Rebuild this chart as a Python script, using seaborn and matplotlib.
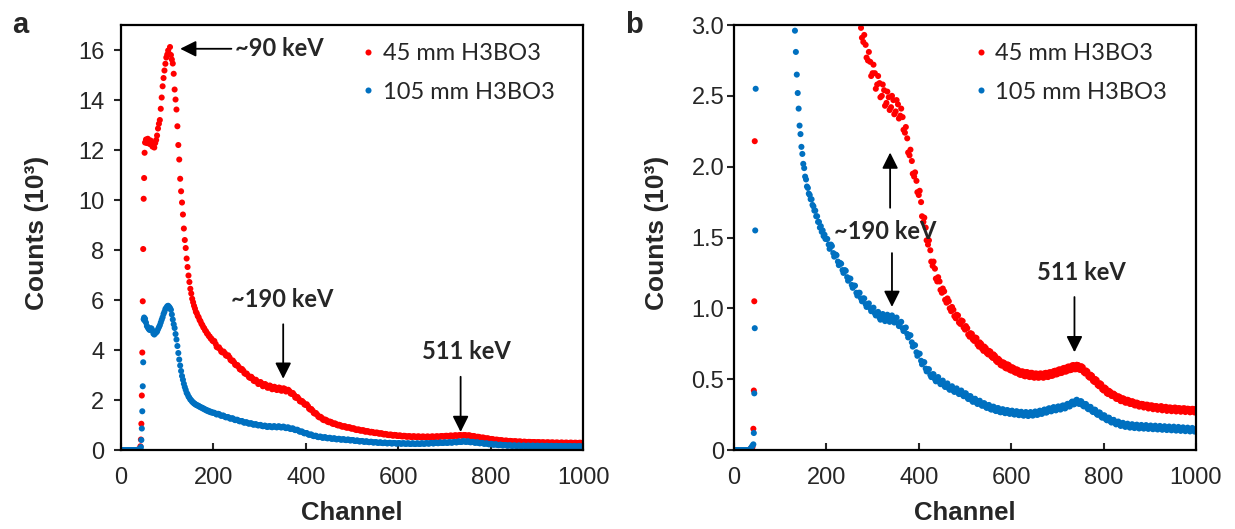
import pandas as pd
import matplotlib
matplotlib.use('Agg')
import matplotlib.pyplot as plt
import seaborn as sns

# Channel grid: flat start, steep rising edge, peak region, long tail
# (tail read on two interleaved grids to keep the point band dense)
ch_low = list(range(0, 41, 2))
ch_edge = list(range(42, 52))
ch_peak = list(range(52, 201, 2))
ch_tail = list(range(205, 1001, 5))
ch_tail2 = list(range(202, 1000, 5))
channels = ch_low + ch_edge + ch_peak + ch_tail + ch_tail2

# Counts (x10^3), 45 mm H3BO3
red_low = [0, 0, 0, 0, 0, 0, 0, 0, 0, 0, 0, 0, 0, 0, 0, 0, 0, 0, 0.01, 0.01, 0.02]
red_edge = [0.15, 0.42, 1.05, 2.18, 3.90, 5.95, 8.04, 10.05, 10.88, 11.89]
red_peak = [12.30, 12.42, 12.28, 12.45, 12.36, 12.24, 12.38, 12.30, 12.14, 12.20,
            12.10, 12.28, 12.40, 12.58, 12.86, 13.05, 13.20, 13.65, 14.10, 14.55,
            14.88, 15.18, 15.45, 15.70, 15.82, 15.98, 15.85, 16.12, 15.80, 15.62,
            15.46, 15.05, 14.42, 14.02, 13.62, 12.95, 12.20, 11.62, 10.85, 10.35,
            9.90, 9.42, 8.86, 8.40, 8.08, 7.66, 7.32, 6.98, 6.72, 6.45,
            6.26, 6.05, 5.91, 5.77, 5.66, 5.53, 5.47, 5.36, 5.31, 5.20,
            5.15, 5.05, 5.00, 4.91, 4.87, 4.78, 4.75, 4.66, 4.64, 4.56,
            4.54, 4.46, 4.45, 4.37, 4.35]
red_tail = [4.24, 4.09, 4.02, 3.90, 3.87, 3.76, 3.70, 3.56, 3.50, 3.38,
            3.32, 3.20, 3.17, 3.04, 2.98, 2.88, 2.86, 2.75, 2.74, 2.66,
            2.66, 2.58, 2.59, 2.50, 2.54, 2.45, 2.49, 2.42, 2.47, 2.39,
            2.44, 2.36, 2.35, 2.24, 2.20, 2.08, 2.04, 1.93, 1.90, 1.80,
            1.75, 1.61, 1.57, 1.45, 1.41, 1.30, 1.28, 1.19, 1.19, 1.11,
            1.12, 1.04, 1.05, 0.98, 0.99, 0.93, 0.95, 0.89, 0.91, 0.85,
            0.86, 0.80, 0.82, 0.77, 0.79, 0.73, 0.75, 0.70, 0.72, 0.675,
            0.695, 0.65, 0.665, 0.62, 0.635, 0.595, 0.615, 0.575, 0.60, 0.56,
            0.58, 0.545, 0.565, 0.53, 0.555, 0.52, 0.55, 0.515, 0.545, 0.51,
            0.54, 0.51, 0.54, 0.51, 0.545, 0.515, 0.55, 0.525, 0.56, 0.535,
            0.57, 0.545, 0.58, 0.555, 0.59, 0.565, 0.60, 0.57, 0.60, 0.565,
            0.585, 0.54, 0.555, 0.51, 0.525, 0.48, 0.495, 0.45, 0.465, 0.42,
            0.435, 0.395, 0.41, 0.38, 0.39, 0.36, 0.375, 0.345, 0.36, 0.335,
            0.35, 0.325, 0.34, 0.315, 0.33, 0.31, 0.325, 0.305, 0.32, 0.30,
            0.315, 0.295, 0.31, 0.29, 0.31, 0.29, 0.305, 0.285, 0.30, 0.28,
            0.30, 0.28, 0.295, 0.275, 0.295, 0.275, 0.29, 0.27, 0.29, 0.275]
red_tail2 = [4.36, 4.12, 4.11, 3.93, 3.94, 3.78, 3.79, 3.60, 3.58, 3.41,
             3.40, 3.23, 3.24, 3.07, 3.06, 2.91, 2.93, 2.77, 2.81, 2.64,
             2.72, 2.55, 2.64, 2.49, 2.58, 2.43, 2.53, 2.40, 2.50, 2.37,
             2.47, 2.34, 2.41, 2.26, 2.28, 2.10, 2.12, 1.95, 1.96, 1.82,
             1.83, 1.65, 1.64, 1.48, 1.48, 1.33, 1.33, 1.21, 1.22, 1.13,
             1.14, 1.06, 1.07, 1.00, 1.01, 0.945, 0.955, 0.90, 0.915, 0.865,
             0.875, 0.815, 0.825, 0.78, 0.795, 0.745, 0.76, 0.715, 0.73, 0.685,
             0.70, 0.66, 0.675, 0.63, 0.645, 0.60, 0.62, 0.58, 0.605, 0.565,
             0.585, 0.55, 0.57, 0.535, 0.555, 0.525, 0.55, 0.52, 0.545, 0.515,
             0.54, 0.512, 0.54, 0.514, 0.542, 0.517, 0.548, 0.523, 0.557, 0.533,
             0.567, 0.543, 0.577, 0.553, 0.588, 0.563, 0.598, 0.57, 0.602, 0.568,
             0.592, 0.548, 0.562, 0.518, 0.532, 0.488, 0.502, 0.458, 0.472, 0.428,
             0.442, 0.40, 0.418, 0.382, 0.398, 0.362, 0.38, 0.345, 0.366, 0.334,
             0.355, 0.325, 0.345, 0.315, 0.335, 0.306, 0.326, 0.30, 0.32, 0.293,
             0.315, 0.288, 0.31, 0.284, 0.306, 0.28, 0.302, 0.276, 0.30, 0.274,
             0.298, 0.272, 0.296, 0.27, 0.294, 0.268, 0.292, 0.266, 0.291, 0.265]

# Counts (x10^3), 105 mm H3BO3
blue_low = [0, 0, 0, 0, 0, 0, 0, 0, 0, 0, 0, 0, 0, 0, 0, 0, 0, 0, 0.01, 0.02, 0.03]
blue_edge = [0.04, 0.12, 0.40, 0.86, 1.55, 2.55, 3.51, 5.23, 5.30, 5.18]
blue_peak = [5.25, 5.10, 4.96, 4.90, 4.84, 4.80, 4.87, 4.86, 4.78, 4.66,
             4.62, 4.67, 4.70, 4.74, 4.83, 4.91, 4.99, 5.10, 5.21, 5.31,
             5.44, 5.53, 5.64, 5.69, 5.75, 5.77, 5.73, 5.68, 5.61, 5.42,
             5.22, 5.03, 4.88, 4.64, 4.42, 4.16, 3.88, 3.62, 3.38, 3.16,
             2.96, 2.81, 2.65, 2.52, 2.41, 2.29, 2.23, 2.14, 2.09, 2.02,
             1.99, 1.93, 1.91, 1.86, 1.85, 1.81, 1.80, 1.77, 1.77, 1.73,
             1.72, 1.69, 1.69, 1.65, 1.65, 1.61, 1.61, 1.57, 1.58, 1.54,
             1.55, 1.51, 1.52, 1.49, 1.49]
blue_tail = [1.45, 1.45, 1.39, 1.38, 1.33, 1.32, 1.27, 1.27, 1.22, 1.21,
             1.165, 1.16, 1.11, 1.11, 1.07, 1.07, 1.03, 1.03, 1.00, 1.00,
             0.965, 0.97, 0.935, 0.95, 0.925, 0.945, 0.92, 0.94, 0.915, 0.93,
             0.895, 0.90, 0.86, 0.86, 0.82, 0.81, 0.76, 0.74, 0.69, 0.68,
             0.63, 0.62, 0.575, 0.57, 0.53, 0.535, 0.50, 0.51, 0.48, 0.485,
             0.455, 0.465, 0.435, 0.445, 0.42, 0.43, 0.405, 0.415, 0.39, 0.40,
             0.37, 0.38, 0.35, 0.36, 0.335, 0.345, 0.32, 0.33, 0.305, 0.315,
             0.29, 0.305, 0.28, 0.295, 0.27, 0.285, 0.265, 0.28, 0.26, 0.275,
             0.255, 0.27, 0.25, 0.267, 0.247, 0.263, 0.245, 0.262, 0.246, 0.265,
             0.25, 0.272, 0.256, 0.28, 0.265, 0.29, 0.275, 0.298, 0.282, 0.303,
             0.288, 0.31, 0.295, 0.32, 0.308, 0.335, 0.322, 0.35, 0.332, 0.345,
             0.315, 0.325, 0.295, 0.305, 0.275, 0.285, 0.255, 0.265, 0.235, 0.245,
             0.217, 0.228, 0.202, 0.212, 0.19, 0.198, 0.178, 0.188, 0.17, 0.182,
             0.165, 0.178, 0.16, 0.175, 0.158, 0.172, 0.156, 0.17, 0.154, 0.168,
             0.152, 0.166, 0.15, 0.164, 0.148, 0.162, 0.146, 0.16, 0.145, 0.158,
             0.143, 0.156, 0.142, 0.154, 0.14, 0.152, 0.139, 0.15, 0.138, 0.148]
blue_tail2 = [1.49, 1.42, 1.44, 1.365, 1.375, 1.305, 1.315, 1.25, 1.265, 1.195,
              1.21, 1.145, 1.16, 1.09, 1.11, 1.05, 1.07, 1.01, 1.035, 0.98,
              1.005, 0.95, 0.975, 0.92, 0.96, 0.91, 0.955, 0.905, 0.95, 0.90,
              0.935, 0.875, 0.905, 0.84, 0.865, 0.795, 0.81, 0.73, 0.74, 0.665,
              0.68, 0.605, 0.62, 0.555, 0.57, 0.515, 0.535, 0.485, 0.515, 0.465,
              0.49, 0.445, 0.47, 0.425, 0.45, 0.41, 0.435, 0.395, 0.42, 0.38,
              0.40, 0.36, 0.38, 0.34, 0.362, 0.325, 0.348, 0.312, 0.33, 0.297,
              0.318, 0.285, 0.306, 0.275, 0.296, 0.266, 0.288, 0.26, 0.282, 0.255,
              0.278, 0.25, 0.274, 0.246, 0.27, 0.242, 0.268, 0.24, 0.268, 0.243,
              0.272, 0.248, 0.278, 0.256, 0.286, 0.265, 0.295, 0.273, 0.303, 0.28,
              0.308, 0.286, 0.315, 0.294, 0.326, 0.308, 0.342, 0.324, 0.355, 0.325,
              0.343, 0.308, 0.324, 0.288, 0.304, 0.268, 0.284, 0.248, 0.264, 0.228,
              0.244, 0.21, 0.228, 0.194, 0.213, 0.181, 0.201, 0.17, 0.192, 0.163,
              0.186, 0.158, 0.182, 0.155, 0.179, 0.152, 0.177, 0.151, 0.176, 0.149,
              0.173, 0.147, 0.172, 0.145, 0.17, 0.143, 0.168, 0.141, 0.166, 0.139,
              0.165, 0.137, 0.163, 0.135, 0.16, 0.133, 0.158, 0.131, 0.156, 0.13]

labels = ['45 mm H3BO3', '105 mm H3BO3']
colors = ['#FF0000', '#0070C0']

red = red_low + red_edge + red_peak + red_tail + red_tail2
blue = blue_low + blue_edge + blue_peak + blue_tail + blue_tail2

df = pd.DataFrame({
    'Channel': channels + channels,
    'Counts': red + blue,
    'Sample': [labels[0]] * len(red) + [labels[1]] * len(blue),
})

sns.set_style('white')
plt.rcParams['font.family'] = ['Liberation Sans', 'DejaVu Sans']

fig = plt.figure(figsize=(12.35, 5.29), dpi=100)
ax_a = fig.add_axes([0.098, 0.1493, 0.3741, 0.8034])
ax_b = fig.add_axes([0.5943, 0.1493, 0.3741, 0.8034])

note_font = dict(family='Lato', fontsize=17, fontweight='bold')
arrow = dict(arrowstyle='-|>', color='black', lw=1.3, mutation_scale=24,
             shrinkA=0, shrinkB=0)

for ax in (ax_a, ax_b):
    sns.scatterplot(data=df, x='Channel', y='Counts', hue='Sample',
                    palette=colors, s=19, linewidth=0, ax=ax)
    ax.set_xlim(0, 1000)
    ax.set_xticks(range(0, 1001, 200))
    for sp in ax.spines.values():
        sp.set_linewidth(1.6)
        sp.set_color('black')
    ax.tick_params(axis='x', direction='in', length=5, width=1.5,
                   labelsize=17, pad=12, bottom=True)
    ax.tick_params(axis='y', direction='out', length=5, width=1.5,
                   labelsize=17, left=True)
    ax.set_xlabel('Channel', fontsize=18.5, fontweight='bold')
    ax.set_ylabel('Counts (10³)', fontsize=19, fontweight='bold')
    ax.xaxis.set_label_coords(0.5, -0.12)
    sns.move_legend(ax, 'upper left', bbox_to_anchor=(0.52, 0.958),
                    frameon=False, title=None, handlelength=0.6,
                    handletextpad=0.3, labelspacing=0.75, borderaxespad=0,
                    borderpad=0, prop=dict(family='Lato', size=17))

# panel a
ax_a.set_ylim(0, 17)
ax_a.set_yticks(range(0, 17, 2))
ax_a.tick_params(axis='y', pad=7)
ax_a.yaxis.set_label_coords(-0.156, 0.51)
ax_a.annotate('~90 keV', xy=(128, 16.05), xytext=(246, 16.05),
              ha='left', va='center', arrowprops=arrow, **note_font)
ax_a.text(348, 6.03, '~190 keV', ha='center', va='center', **note_font)
ax_a.annotate('', xy=(351, 2.85), xytext=(351, 5.03), arrowprops=arrow)
ax_a.text(748, 3.94, '511 keV', ha='center', va='center', **note_font)
ax_a.annotate('', xy=(735, 0.72), xytext=(735, 2.93), arrowprops=arrow)

# panel b (zoom on the low counts)
ax_b.set_ylim(0, 3.0)
ax_b.set_yticks([0, 0.5, 1.0, 1.5, 2.0, 2.5, 3.0])
ax_b.set_yticklabels(['0', '0.5', '1.0', '1.5', '2.0', '2.5', '3.0'])
ax_b.tick_params(axis='y', pad=2)
ax_b.yaxis.set_label_coords(-0.140, 0.51)
ax_b.text(328, 1.54, '~190 keV', ha='center', va='center', **note_font)
ax_b.annotate('', xy=(338, 2.10), xytext=(338, 1.71), arrowprops=arrow)
ax_b.annotate('', xy=(342, 1.01), xytext=(342, 1.39), arrowprops=arrow)
ax_b.text(753, 1.256, '511 keV', ha='center', va='center', **note_font)
ax_b.annotate('', xy=(737, 0.69), xytext=(737, 1.08), arrowprops=arrow)

fig.text(0.010, 0.953, 'a', fontsize=21, fontweight='bold', va='center')
fig.text(0.506, 0.953, 'b', fontsize=21, fontweight='bold', va='center')

fig.savefig('out.png', dpi=100)
